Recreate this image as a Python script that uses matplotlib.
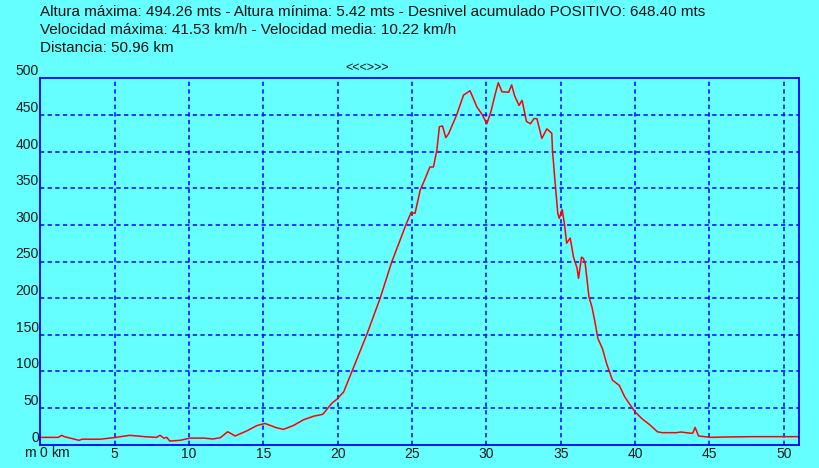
import matplotlib
matplotlib.use("Agg")
import matplotlib.pyplot as plt

# elevation profile (km, m)
dist = [0, 1.2, 1.43, 1.6, 2.6, 2.8, 4.0, 4.9, 6.0, 7.0, 7.8, 8.05, 8.3, 8.5, 8.7,
        9.4, 10.07, 11.0, 11.6, 12.1, 12.6, 13.1, 13.9, 14.55, 15.1, 15.9, 16.35,
        17.0, 17.7, 18.4, 19.0, 19.6, 19.94, 20.4, 20.95, 21.96, 22.85, 23.64,
        24.6, 24.94, 25.2, 25.55, 25.88, 26.2, 26.44, 26.67, 26.84, 27.05, 27.27,
        27.45, 28.0, 28.46, 28.9, 29.36, 29.7, 30.03, 30.3, 30.6, 30.8, 31.05,
        31.5, 31.7, 31.9, 32.2, 32.4, 32.7, 32.97, 33.2, 33.4, 33.73, 34.07, 34.4,
        34.45, 34.52, 34.6, 34.65, 34.8, 34.9, 35.1, 35.26, 35.4, 35.64, 35.86,
        36.1, 36.2, 36.4, 36.53, 36.65, 36.8, 36.9, 37.1, 37.3, 37.5, 37.8, 38.1,
        38.48, 38.94, 39.3, 39.75, 40.0, 40.44, 41.0, 41.5, 41.83, 42.77, 43.1,
        43.8, 43.9, 44.04, 44.27, 45.08, 46.0, 48.0, 50.0, 51.05]
alt = [10, 10, 12.8, 11, 6, 7.5, 7.5, 9.5, 12.8, 11, 10, 12.8, 9, 10, 5,
       6, 9, 9, 7.8, 9.5, 17.7, 11.9, 19, 26, 29, 23, 21,
       26, 34, 39, 41.5, 56.5, 62, 72, 99.6, 150.6, 199.7, 249.7,
       300.7, 317, 315.7, 347.5, 363, 379, 379, 402, 434, 435, 419,
       424, 450, 477, 483, 461, 451, 438, 454, 479, 494, 481.6,
       481, 491, 476, 463, 470, 441, 438, 445, 445, 418, 431, 425,
       400, 384, 363, 352, 316, 309, 321, 300, 275, 282, 256,
       241, 227, 256, 254, 247, 220, 202, 188, 168, 145, 131.5, 110,
       88, 81, 65.5, 52, 45, 36, 27, 17.7, 16.4, 16.4, 17.3,
       15.5, 16.4, 23.7, 11.9, 10, 10.5, 11, 11, 11]

x_ticks = [0, 5, 10, 15, 20, 25, 30, 35, 40, 45, 50]
y_ticks = [0, 50, 100, 150, 200, 250, 300, 350, 400, 450, 500]
info = ["Altura máxima: 494.26 mts - Altura mínima: 5.42 mts - Desnivel acumulado POSITIVO: 648.40 mts",
        "Velocidad máxima: 41.53 km/h - Velocidad media: 10.22 km/h",
        "Distancia: 50.96 km"]

bg = "#66ffff"
blue = "#0000ff"
txt = "#1a1a1a"
plt.rcParams["font.family"] = ["Liberation Sans", "DejaVu Sans"]

fig = plt.figure(figsize=(8.19, 4.68), dpi=100, facecolor=bg)
ax = fig.add_axes([40.4 / 819, 23.3 / 468, 758.9 / 819, 366.4 / 468], facecolor=bg)

ax.plot(dist, alt, color="#ff0000", lw=1.1)
ax.set_xlim(0, 51.05)
ax.set_ylim(0, 500)

for xv in x_ticks[1:]:
    ax.axvline(xv, color=blue, lw=1.1, ls=(0, (2.8, 2.2)), zorder=0)
for yv in y_ticks[1:-1]:
    ax.axhline(yv, color=blue, lw=1.1, ls=(0, (2.8, 2.2)), zorder=0)

for s in ax.spines.values():
    s.set_color(blue)
    s.set_linewidth(1.3)

ax.set_xticks(x_ticks)
ax.set_xticklabels([""] + [str(v) for v in x_ticks[1:]])
ax.set_yticks(y_ticks)
ax.set_yticklabels([str(v) for v in y_ticks], va="bottom")
ax.tick_params(length=0, labelsize=10, colors=txt, pad=2)
ax.tick_params(axis="y", pad=1)

# unit labels around the x origin
fig.text(30 / 819, 1 - 453 / 468, "m", fontsize=10, ha="center", va="center", color=txt)
fig.text(43 / 819, 1 - 453 / 468, "0", fontsize=10, ha="center", va="center", color=txt)
fig.text(60 / 819, 1 - 453 / 468, "km", fontsize=10, ha="center", va="center", color=txt)

for i, line in enumerate(info):
    fig.text(40 / 819, 1 - (12 + 18 * i) / 468, line, fontsize=11, ha="left", va="center", color="#111111")

fig.text(367 / 819, 1 - 68 / 468, "<<<>>>", fontsize=9, ha="center", va="center", color="#111111")

fig.savefig("out.png", dpi=100, facecolor=bg)
